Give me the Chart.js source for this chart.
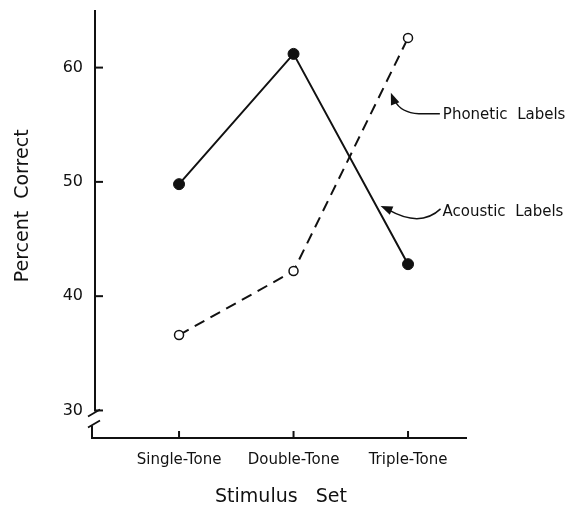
<!DOCTYPE html>
<html>
<head>
<meta charset="utf-8">
<script src="https://cdn.jsdelivr.net/npm/chart.js@4/dist/chart.umd.min.js"></script>
<style>
  html, body { margin: 0; padding: 0; background: #fff; }
  #chart { display: block; }
</style>
</head>
<body>
<canvas id="chart" width="576" height="514"></canvas>
<script>
var categories = ["Single-Tone", "Double-Tone", "Triple-Tone"];
var acousticValues = [49.8, 61.2, 42.8];
var phoneticValues = [36.6, 42.2, 62.6];
var yTickValues = [30, 40, 50, 60];

// label text, arrow tip (category index, value on the line)
var notes = [
    {text: "Phonetic  Labels", at: 1.85, value: 57.8},
    {text: "Acoustic  Labels", at: 1.76, value: 47.9}
];

var ink = "#111";
var fontFamily = "'DejaVu Sans', sans-serif";

function toPoints(values) {
    return values.map(function(v, i) { return {x: i, y: v}; });
}

function arrowHead(ctx, tx, ty, dx, dy) {
    var len = Math.sqrt(dx * dx + dy * dy);
    var ux = dx / len, uy = dy / len;
    ctx.beginPath();
    ctx.moveTo(tx, ty);
    ctx.lineTo(tx + ux * 12 - uy * 4.5, ty + uy * 12 + ux * 4.5);
    ctx.lineTo(tx + ux * 12 + uy * 4.5, ty + uy * 12 - ux * 4.5);
    ctx.closePath();
    ctx.fill();
}

var axesPlugin = {
    id: "handAxes",
    afterDraw: function(chart) {
        var ctx = chart.ctx;
        var xs = chart.scales.x;
        var ys = chart.scales.y;
        var area = chart.chartArea;
        var y30 = ys.getPixelForValue(30);
        ctx.save();
        ctx.strokeStyle = ink;
        ctx.fillStyle = ink;
        ctx.lineWidth = 2;

        // y axis with break below 30
        ctx.beginPath();
        ctx.moveTo(area.left, area.top);
        ctx.lineTo(area.left, y30 + 1);
        ctx.stroke();
        ctx.lineWidth = 1.8;
        ctx.beginPath();
        ctx.moveTo(area.left - 7, y30 + 6);
        ctx.lineTo(area.left + 5, y30 - 1);
        ctx.moveTo(area.left - 7, y30 + 17);
        ctx.lineTo(area.left + 5, y30 + 10);
        ctx.stroke();
        ctx.lineWidth = 2;
        ctx.beginPath();
        ctx.moveTo(area.left - 3, y30 + 15);
        ctx.lineTo(area.left - 3, area.bottom);
        ctx.lineTo(xs.right, area.bottom);
        ctx.stroke();

        // y ticks point inward
        yTickValues.forEach(function(v) {
            var py = ys.getPixelForValue(v);
            ctx.beginPath();
            ctx.moveTo(area.left, py);
            ctx.lineTo(area.left + 8, py);
            ctx.stroke();
        });
        // x ticks point upward
        categories.forEach(function(c, i) {
            var px = xs.getPixelForValue(i);
            ctx.beginPath();
            ctx.moveTo(px, area.bottom);
            ctx.lineTo(px, area.bottom - 7);
            ctx.stroke();
        });

        // curved arrows and their labels
        ctx.font = "15px " + fontFamily;
        ctx.textBaseline = "middle";
        ctx.textAlign = "left";
        ctx.lineWidth = 1.5;

        var p = notes[0];
        var tx = xs.getPixelForValue(p.at), ty = ys.getPixelForValue(p.value);
        var lx = tx + 52, ly = ty + 22;
        ctx.fillText(p.text, lx, ly);
        ctx.beginPath();
        ctx.moveTo(lx - 3, ly - 1);
        ctx.lineTo(lx - 24, ly - 1);
        ctx.quadraticCurveTo(tx + 10, ly - 2, tx + 4, ty + 8);
        ctx.stroke();
        arrowHead(ctx, tx, ty, 5, 13);

        var a = notes[1];
        tx = xs.getPixelForValue(a.at);
        ty = ys.getPixelForValue(a.value);
        lx = tx + 62;
        ly = ty + 6;
        ctx.fillText(a.text, lx, ly);
        ctx.beginPath();
        ctx.moveTo(lx - 2, ly - 3);
        ctx.quadraticCurveTo(lx - 22, ly + 16, tx + 8, ty + 4);
        ctx.stroke();
        arrowHead(ctx, tx, ty, 14, 6);

        ctx.restore();
    }
};

new Chart(document.getElementById("chart"), {
    type: "line",
    data: {
        datasets: [{
            label: "Acoustic Labels",
            data: toPoints(acousticValues),
            borderColor: ink,
            borderWidth: 2,
            pointRadius: 5.5,
            pointBackgroundColor: ink,
            pointBorderColor: ink,
            pointBorderWidth: 1,
            tension: 0
        }, {
            label: "Phonetic Labels",
            data: toPoints(phoneticValues),
            borderColor: ink,
            borderWidth: 2,
            borderDash: [11, 7],
            pointRadius: 4.5,
            pointBackgroundColor: "#fff",
            pointBorderColor: ink,
            pointBorderWidth: 1.5,
            tension: 0
        }]
    },
    options: {
        responsive: false,
        animation: false,
        clip: false,
        layout: {padding: {top: 10, right: 109, left: 0, bottom: 0}},
        plugins: {
            legend: {display: false},
            tooltip: {enabled: false}
        },
        scales: {
            x: {
                type: "linear",
                min: -0.734,
                max: 2.515,
                grid: {display: false, drawTicks: false},
                border: {display: false},
                afterBuildTicks: function(scale) {
                    scale.ticks = categories.map(function(c, i) { return {value: i}; });
                },
                afterFit: function(scale) {
                    scale.height = 76;
                    scale.paddingLeft = 0;
                    scale.paddingRight = 0;
                },
                ticks: {
                    padding: 13,
                    color: ink,
                    maxRotation: 0,
                    autoSkip: false,
                    font: {family: fontFamily, size: 15},
                    callback: function(v) { return categories[v]; }
                },
                title: {
                    display: true,
                    text: "Stimulus   Set",
                    color: ink,
                    padding: {top: 0, bottom: 6},
                    font: {family: fontFamily, size: 19}
                }
            },
            y: {
                min: 27.59,
                max: 65.04,
                grid: {display: false, drawTicks: false},
                border: {display: false},
                afterBuildTicks: function(scale) {
                    scale.ticks = yTickValues.map(function(v) { return {value: v}; });
                },
                afterFit: function(scale) {
                    scale.width = 95;
                    scale.paddingTop = 0;
                    scale.paddingBottom = 0;
                },
                ticks: {
                    padding: 12,
                    color: ink,
                    font: {family: fontFamily, size: 16}
                },
                title: {
                    display: true,
                    text: "      Percent  Correct",
                    color: ink,
                    padding: {top: 12, bottom: 0},
                    font: {family: fontFamily, size: 19}
                }
            }
        }
    },
    plugins: [axesPlugin]
});
</script>
</body>
</html>
